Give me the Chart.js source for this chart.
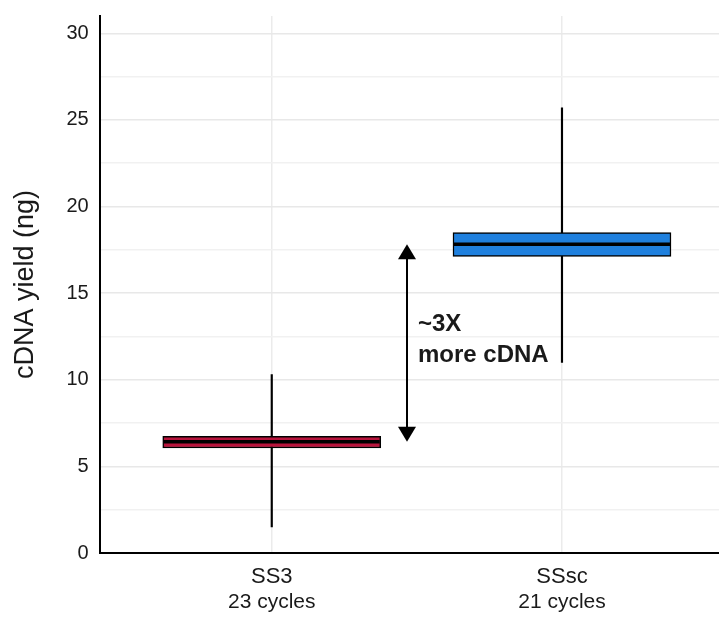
<!DOCTYPE html>
<html lang="en">
<head>
<meta charset="UTF-8">
<title>cDNA yield</title>
<style>
    body { margin: 0; background: #fff; }
    #wrap { width: 719px; height: 620px; }
</style>
</head>
<body>

<div id="wrap">
    <canvas id="chart" width="719" height="620"></canvas>
</div>

<script src="https://cdn.jsdelivr.net/npm/chart.js"></script>

<script>
    // groups on the x axis
    const categories = ['SS3', 'SSsc'];
    const cycles = ['23 cycles', '21 cycles'];

    // box plot values (ng)
    const whiskerLow = [1.5, 11.0];
    const whiskerHigh = [10.3, 25.7];
    const q1 = [6.06, 17.12];
    const q3 = [6.73, 18.5];
    const median = [6.42, 17.83];

    const yTicks = [0, 5, 10, 15, 20, 25, 30];
    const arrowLabel = ['~3X', 'more cDNA'];
    const arrowX = 1.466;

    const boxColors = ['#b8143c', '#1f80de'];
    const textColor = '#1a1a1a';
    const fontFamily = '"Liberation Sans", Arial, Helvetica, sans-serif';

    const positions = categories.map((c, i) => i + 1);

    function categoryTicks(axis) {
        axis.ticks = positions.map(v => ({ value: v }));
    }

    // arrow + label between the two medians
    const arrowPlugin = {
        id: 'arrowNote',
        afterDatasetsDraw(chart) {
            const ctx = chart.ctx;
            const x = chart.scales.x.getPixelForValue(arrowX);
            const yTop = chart.scales.y.getPixelForValue(median[1]);
            const yBot = chart.scales.y.getPixelForValue(median[0]);
            const head = 15, half = 9;
            ctx.save();
            ctx.strokeStyle = '#000';
            ctx.fillStyle = '#000';
            ctx.lineWidth = 2;
            ctx.beginPath();
            ctx.moveTo(x, yTop + head - 1);
            ctx.lineTo(x, yBot - head + 1);
            ctx.stroke();
            ctx.beginPath();
            ctx.moveTo(x, yTop);
            ctx.lineTo(x - half, yTop + head);
            ctx.lineTo(x + half, yTop + head);
            ctx.closePath();
            ctx.fill();
            ctx.beginPath();
            ctx.moveTo(x, yBot);
            ctx.lineTo(x - half, yBot - head);
            ctx.lineTo(x + half, yBot - head);
            ctx.closePath();
            ctx.fill();

            const mid = (yTop + yBot) / 2;
            ctx.font = 'bold 24px ' + fontFamily;
            ctx.textAlign = 'left';
            ctx.textBaseline = 'alphabetic';
            ctx.fillStyle = textColor;
            ctx.fillText(arrowLabel[0], x + 11, mid - 12);
            ctx.fillText(arrowLabel[1], x + 11, mid + 19);
            ctx.restore();
        }
    };

    new Chart(document.getElementById('chart'), {
        type: 'bar',
        data: {
            datasets: [
                {
                    type: 'line',
                    label: 'median',
                    data: positions.map((x, i) => ({ x: x, y: median[i] })),
                    showLine: false,
                    pointStyle: 'line',
                    pointRadius: 108,
                    pointHoverRadius: 108,
                    pointBorderWidth: 3.5,
                    pointBorderColor: '#000',
                    borderColor: '#000',
                    clip: false,
                    order: 0
                },
                {
                    label: 'box',
                    data: positions.map((x, i) => ({ x: x, y: [q1[i], q3[i]] })),
                    backgroundColor: boxColors,
                    borderColor: '#000',
                    borderWidth: 1.5,
                    borderSkipped: false,
                    barThickness: 218,
                    grouped: false,
                    order: 1
                },
                {
                    label: 'whisker',
                    data: positions.map((x, i) => ({ x: x, y: [whiskerLow[i], whiskerHigh[i]] })),
                    backgroundColor: '#000',
                    borderWidth: 0,
                    barThickness: 1.5,
                    grouped: false,
                    order: 2
                }
            ]
        },
        options: {
            responsive: false,
            animation: false,
            layout: { autoPadding: false, padding: { left: 9, right: 0, top: 16, bottom: 6 } },
            plugins: {
                legend: { display: false },
                tooltip: { enabled: false }
            },
            scales: {
                x: {
                    type: 'linear',
                    position: 'bottom',
                    offset: false,
                    min: 0.407,
                    max: 2.541,
                    afterBuildTicks: categoryTicks,
                    afterFit: axis => { axis.paddingLeft = 0; axis.paddingRight = 0; axis.height = 37; },
                    grid: { color: '#ebebeb', lineWidth: 1.5, drawTicks: false, tickLength: 0, offset: false },
                    border: { color: '#000', width: 2 },
                    ticks: {
                        callback: v => categories[v - 1],
                        font: { family: fontFamily, size: 22 },
                        color: textColor,
                        padding: 11,
                        maxRotation: 0
                    }
                },
                x2: {
                    type: 'linear',
                    axis: 'x',
                    position: 'bottom',
                    offset: false,
                    min: 0.407,
                    max: 2.541,
                    afterBuildTicks: categoryTicks,
                    afterFit: axis => { axis.paddingLeft = 0; axis.paddingRight = 0; axis.height = 24; },
                    grid: { display: false, drawTicks: false, tickLength: 0, offset: false },
                    border: { display: false },
                    ticks: {
                        callback: v => cycles[v - 1],
                        font: { family: fontFamily, size: 21 },
                        color: textColor,
                        padding: 0,
                        maxRotation: 0
                    }
                },
                y: {
                    min: 0,
                    max: 31,
                    afterBuildTicks: axis => {
                        const t = [];
                        for (let v = yTicks[0]; v <= yTicks[yTicks.length - 1]; v += 2.5) t.push({ value: v });
                        axis.ticks = t;
                    },
                    afterFit: axis => { axis.paddingTop = 0; axis.paddingBottom = 0; },
                    grid: {
                        color: ctx => (ctx.tick && yTicks.includes(ctx.tick.value)) ? '#e8e8e8' : '#f1f1f1',
                        lineWidth: 1.5,
                        drawTicks: false,
                        tickLength: 0
                    },
                    border: { color: '#000', width: 2 },
                    ticks: {
                        callback: v => yTicks.includes(v) ? v : '',
                        font: { family: fontFamily, size: 20 },
                        color: textColor,
                        padding: 11
                    },
                    title: {
                        display: true,
                        text: 'cDNA yield (ng)',
                        font: { family: fontFamily, size: 27 },
                        color: textColor,
                        padding: { top: 0, bottom: 14 }
                    }
                }
            }
        },
        plugins: [arrowPlugin]
    });
</script>

</body>
</html>
